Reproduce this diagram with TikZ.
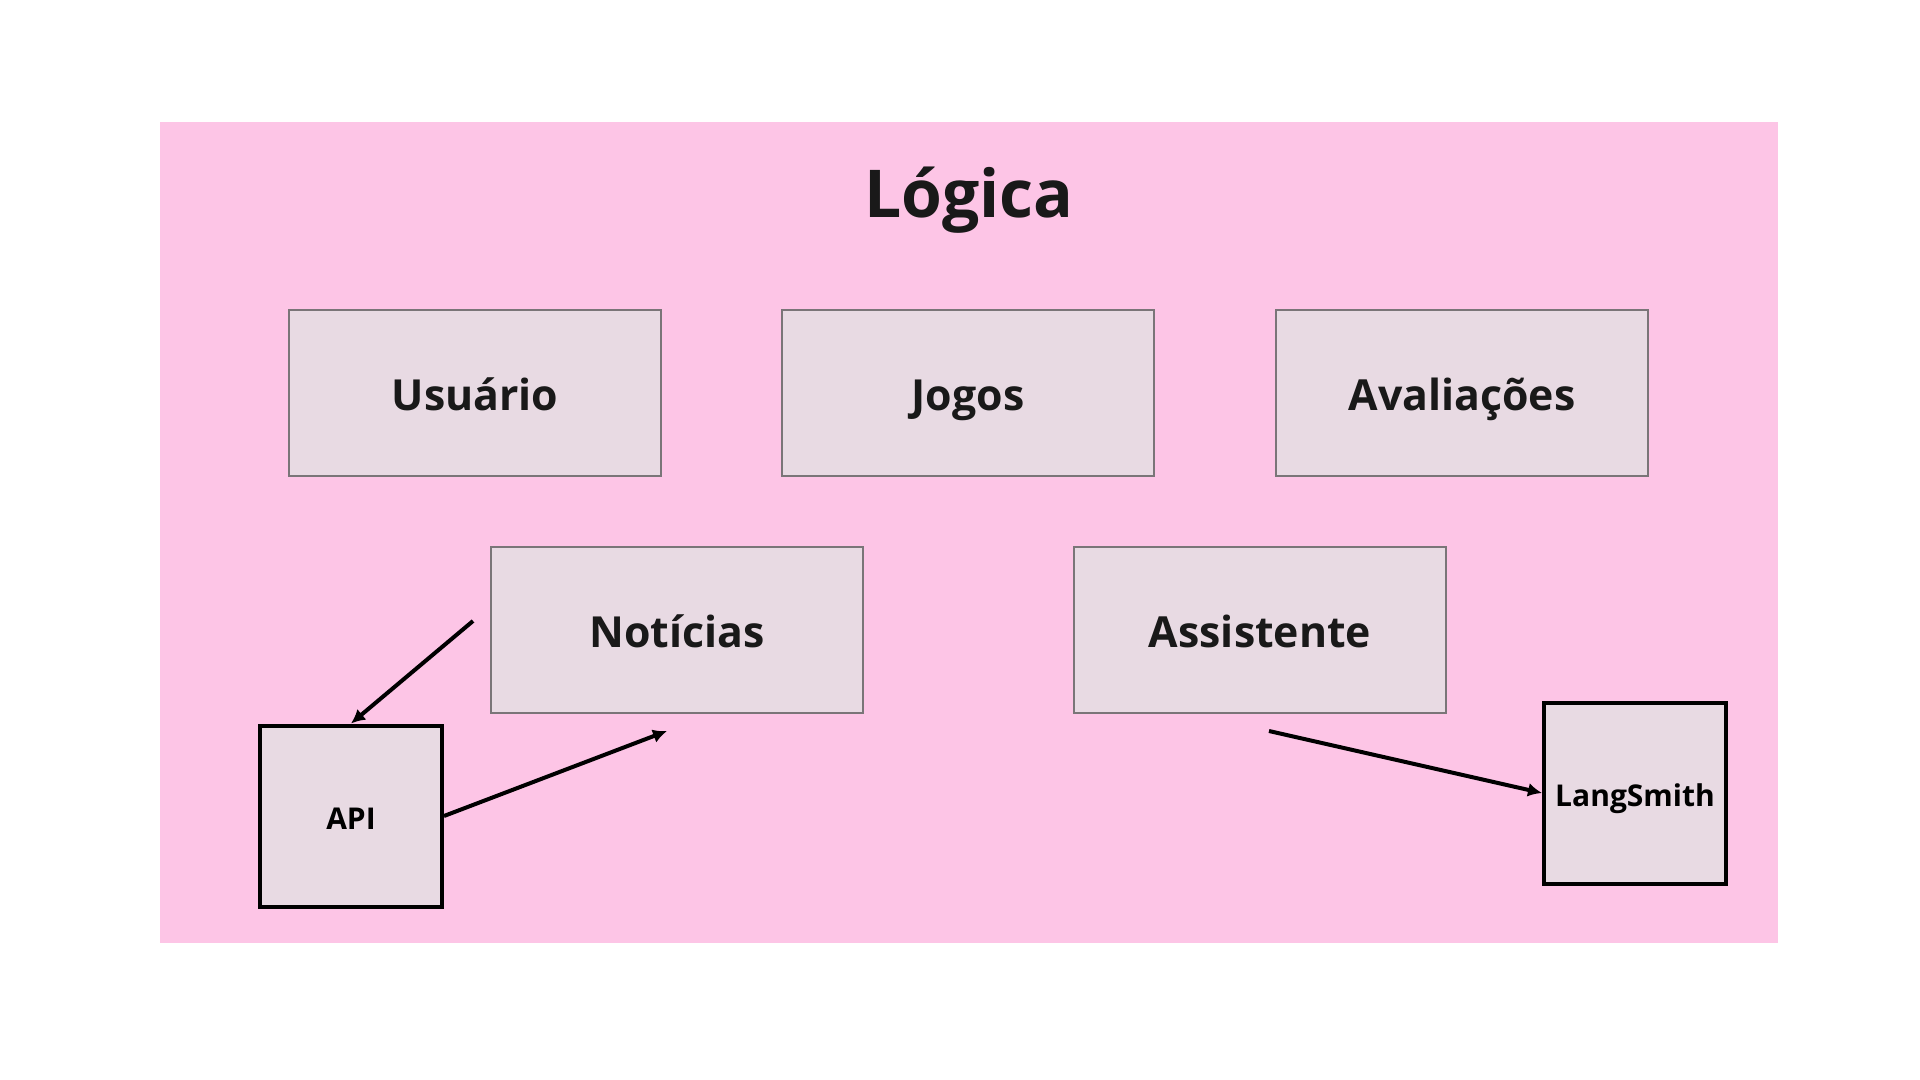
\documentclass[tikz,border=0pt]{standalone}
\usepackage{fontspec}
\setmainfont{Open Sans}
\usetikzlibrary{arrows.meta}
\definecolor{pinkbg}{HTML}{FDC5E6}
\definecolor{boxfill}{HTML}{E8DAE3}
\definecolor{boxline}{HTML}{7A7578}
\tikzset{
  mainbox/.style={draw=boxline, line width=1.2pt, fill=boxfill, minimum width=186pt, minimum height=83pt, inner sep=0pt, text height=17pt, text depth=0pt, font=\fontsize{21.4}{26}\selectfont\bfseries, text=black!90},
  smallbox/.style={draw=black, line width=2pt, fill=boxfill, minimum width=91pt, minimum height=90.5pt, inner sep=0pt, text height=13.5pt, text depth=0pt, font=\fontsize{15}{18}\selectfont\bfseries},
  arr/.style={line width=2pt, -{Latex[length=7pt,width=7pt]}}
}
\begin{document}
\begin{tikzpicture}[x=0.5pt,y=-0.5pt]
\useasboundingbox (0,0) rectangle (1920,1080);
\fill[white] (0,0) rectangle (1920,1080);
\fill[pinkbg] (160,122) rectangle (1778,943);
\node[font=\fontsize{33}{40}\selectfont\bfseries, text=black!90, anchor=base] (title) at (969,218) {Lógica};
\node[mainbox] (usuario) at (475,393) {Usuário};
\node[mainbox] (jogos) at (968,393) {Jogos};
\node[mainbox] (aval) at (1462,393) {Avaliações};
\node[mainbox] (noticias) at (677,630) {Notícias};
\node[mainbox] (assist) at (1260,630) {Assistente};
\node[smallbox] (api) at (351,816) {API};
\node[smallbox] (lang) at (1635,793) {LangSmith};
\coordinate (a1) at (473,621);
\coordinate (a2) at (667,731);
\coordinate (a3) at (1269,731);
\draw[arr] (a1) -- (api.north);
\draw[arr] (api.east) -- (a2);
\draw[arr] (a3) -- (lang.west);
\end{tikzpicture}
\end{document}
